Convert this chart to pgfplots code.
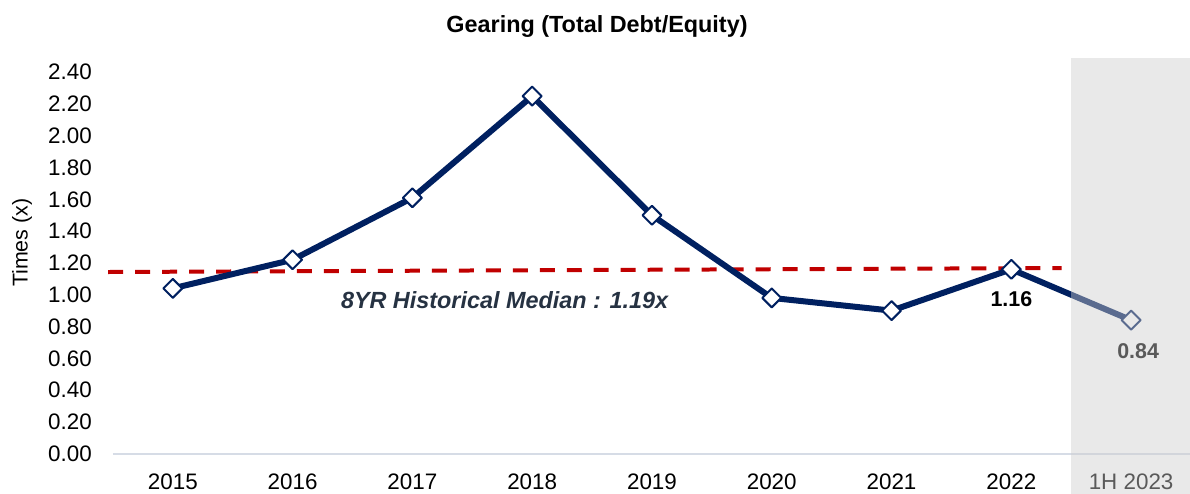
\documentclass[border=0pt]{standalone}
\usepackage{pgfplots}
\pgfplotsset{compat=1.18}
\usepackage{fontspec}
\setmainfont{Liberation Sans}
\definecolor{navy}{RGB}{0,32,96}
\definecolor{medred}{RGB}{192,0,0}
\definecolor{axgray}{RGB}{214,220,230}
\definecolor{bandgray}{RGB}{205,205,205}
\definecolor{medtext}{RGB}{38,50,66}
\begin{document}
\begin{tikzpicture}
\begin{axis}[
  name=ax,
  scale only axis, width=1079bp, height=396bp,
  xmin=-0.5, xmax=8.5, ymin=0, ymax=2.49,
  axis x line=bottom, axis y line=left,
  x axis line style={draw=axgray, line width=2bp, -},
  y axis line style={draw=none},
  major tick length=0pt,
  xtick={0,1,2,3,4,5,6,7,8},
  xticklabels={2015,2016,2017,2018,2019,2020,2021,2022,1H 2023},
  ytick={0,0.2,0.4,0.6,0.8,1.0,1.2,1.4,1.6,1.8,2.0,2.2,2.4},
  /pgf/number format/fixed, /pgf/number format/fixed zerofill,
  /pgf/number format/precision=2, /pgf/number format/assume math mode=true,
  ticklabel style={font=\fontsize{22.5}{26}\selectfont, inner sep=0pt},
  yticklabel style={anchor=east, xshift=-21bp},
  xticklabel style={anchor=north, yshift=-20bp},
  clip=false,
]
\addplot[medred, line width=4bp, dash pattern=on 15bp off 12bp] coordinates {(-0.54,1.143) (7.42,1.168)};
\addplot[navy, line width=6bp, line join=round,
  mark=square*, mark size=6.7bp,
  mark options={rotate=45, fill=white, draw=navy, line width=2bp}]
  coordinates {(0,1.04) (1,1.22) (2,1.61) (3,2.25) (4,1.50) (5,0.98) (6,0.90) (7,1.16) (8,0.84)};
\node[font=\fontsize{23.5}{28}\selectfont\bfseries\itshape, text=medtext] at (axis cs:2.77,0.967) {8YR Historical Median : 1.19x};
\node[font=\fontsize{21.5}{25}\selectfont\bfseries] at ([yshift=-30bp]axis cs:7,1.16) {1.16};
\node[font=\fontsize{21.5}{25}\selectfont\bfseries] at ([xshift=7bp,yshift=-31bp]axis cs:8,0.84) {0.84};
\end{axis}
\fill[bandgray, opacity=0.44] ([xshift=-119.9bp]ax.north east) rectangle ([yshift=-41bp]ax.south east);
\node[font=\fontsize{23.5}{28}\selectfont\bfseries] at ([xshift=-55bp, yshift=31bp]ax.north) {Gearing (Total Debt/Equity)};
\node[rotate=90, font=\fontsize{21.5}{26}\selectfont] at ([xshift=-91bp, yshift=13bp]ax.west) {Times (x)};
\pgfresetboundingbox
\path ([xshift=-113bp,yshift=-40bp]ax.south west) rectangle ([xshift=-1bp,yshift=58bp]ax.north east);
\end{tikzpicture}
\end{document}
